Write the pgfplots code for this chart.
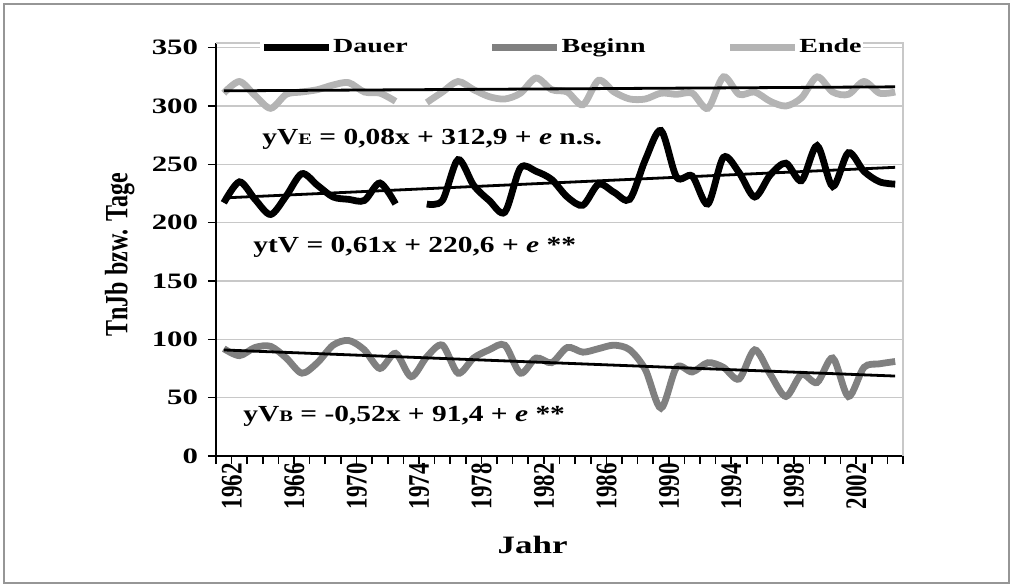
\documentclass[border=0pt]{standalone}
\usepackage{pgfplots}
\pgfplotsset{compat=1.18}
\usepackage{pgfplotstable}
\usepackage{fontspec}
\setmainfont{Liberation Serif}[FakeStretch=1.4]
\newfontfamily\rotfont{Liberation Serif}
\newfontfamily\eqfont{Liberation Serif}[FakeStretch=1.28]
\definecolor{beginn}{RGB}{128,128,128}
\definecolor{ende}{RGB}{180,180,180}
\definecolor{gridc}{RGB}{200,200,200}
\definecolor{framec}{RGB}{150,150,150}

\pgfplotstableread{
year dauer beginn ende
1962 217 92 311
1963 235 86 321
1964 220 93 309
1965 207 94 298
1966 223 84 310
1967 242 71 312
1968 232 80 314
1969 222 95 318
1970 220 99 320
1971 219 91 312
1972 234 75 311
1973 216 88 304
1974 nan 68 nan
1975 216 85 303
1976 219 95 312
1977 254 71 321
1978 232 84 314
1979 219 91 308
1980 209 95 306
1981 247 71 311
1982 244 84 324
1983 237 80 314
1984 222 93 312
1985 215 89 301
1986 233 92 322
1987 226 95 312
1988 220 91 306
1989 254 74 306
1990 279 41 311
1991 239 76 310
1992 240 72 311
1993 216 80 298
1994 256 76 325
1995 243 66 310
1996 222 91 312
1997 241 70 304
1998 251 51 300
1999 236 70 307
2000 266 63 325
2001 231 84 312
2002 260 51 310
2003 244 76 321
2004 235 79 311
2005 233 81 312
}\data

\begin{document}
\begin{tikzpicture}
\useasboundingbox (-108bp,-65.5bp) rectangle (398.5bp,228bp);
\draw[color=framec, line width=0.6bp] (-106bp,-63.5bp) rectangle (396.5bp,226bp);
\begin{axis}[
  at={(0,0)}, anchor=south west,
  scale only axis, width=343.5bp, height=206.5bp,
  xmin=1961.5, xmax=2005.5, ymin=0, ymax=354,
  axis x line*=bottom, axis y line*=left,
  axis line style={black, line width=1bp},
  tick align=outside,
  major tick length=4bp,
  tick style={black, line width=0.8bp},
  xtick={1961.5,1962.5,...,2005.6},
  xticklabels={},
  extra x ticks={1962,1966,1970,1974,1978,1982,1986,1990,1994,1998,2002},
  extra x tick labels={\scalebox{1}[1.3]{1962},\scalebox{1}[1.3]{1966},\scalebox{1}[1.3]{1970},\scalebox{1}[1.3]{1974},\scalebox{1}[1.3]{1978},\scalebox{1}[1.3]{1982},\scalebox{1}[1.3]{1986},\scalebox{1}[1.3]{1990},\scalebox{1}[1.3]{1994},\scalebox{1}[1.3]{1998},\scalebox{1}[1.3]{2002}},
  extra x tick style={major tick length=0pt, grid=none,
     tick label style={rotate=90, anchor=east, yshift=-4bp, font=\rotfont\bfseries\fontsize{11.5bp}{12bp}\selectfont}},
  ytick={0,50,...,350},
  ymajorgrids,
  grid style={gridc, line width=0.8bp},
  yticklabel style={font=\bfseries\fontsize{11bp}{12bp}\selectfont, xshift=-1.5bp, /pgf/number format/assume math mode=true},
  ylabel={\scalebox{1}[1.35]{TnJb bzw. Tage}},
  ylabel style={at={(axis description cs:-0.14,0.487)}, anchor=center, rotate=0, font=\rotfont\bfseries\fontsize{12bp}{13bp}\selectfont},
  xlabel={Jahr},
  xlabel style={at={(axis description cs:0.461,-0.215)}, anchor=center, font=\bfseries\fontsize{12.5bp}{13bp}\selectfont},
  unbounded coords=jump,
  legend columns=3,
  legend image code/.code={\draw[#1] (0bp,0bp) -- (32.5bp,0bp);},
  legend style={at={(axis description cs:0.064,0.990)}, anchor=west, draw=none, fill=white,
     inner sep=0pt, font=\bfseries\fontsize{10bp}{12bp}\selectfont,
     nodes={inner xsep=0.5bp, inner ysep=1bp},
     /tikz/every even column/.append style={column sep=40bp}},
  clip=false,
]
\draw[gridc, line width=0.8bp] (rel axis cs:0,1) -- (rel axis cs:1,1) -- (rel axis cs:1,0);
\addplot[black, line width=3.4bp, smooth, tension=0.5] table[x=year, y=dauer]{\data};
\addlegendentry{Dauer}
\addplot[beginn, line width=3.4bp, smooth, tension=0.5] table[x=year, y=beginn]{\data};
\addlegendentry{Beginn}
\addplot[ende, line width=3.4bp, smooth, tension=0.5] table[x=year, y=ende]{\data};
\addlegendentry{Ende}
\addplot[black, line width=1.4bp, forget plot] coordinates {(1962,312.98) (2005,316.42)};
\addplot[black, line width=1.4bp, forget plot] coordinates {(1962,221.21) (2005,247.44)};
\addplot[black, line width=1.4bp, forget plot] coordinates {(1962,90.88) (2005,68.52)};
\tikzset{eq/.style={anchor=base west, inner sep=0pt, font=\eqfont\bfseries\fontsize{11.5bp}{13bp}\selectfont}}
\node[eq] at (axis cs:1964.45,266.7)
  {yV{\fontsize{8bp}{9bp}\selectfont E} = 0,08x + 312,9 + \textit{e} n.s.};
\node[eq] at (axis cs:1963.87,174)
  {ytV = 0,61x + 220,6 + \textit{e}\ **};
\node[eq] at (axis cs:1963.23,29.4)
  {yV{\fontsize{8bp}{9bp}\selectfont B} = -0,52x + 91,4 + \textit{e}\ **};
\end{axis}
\end{tikzpicture}
\end{document}
